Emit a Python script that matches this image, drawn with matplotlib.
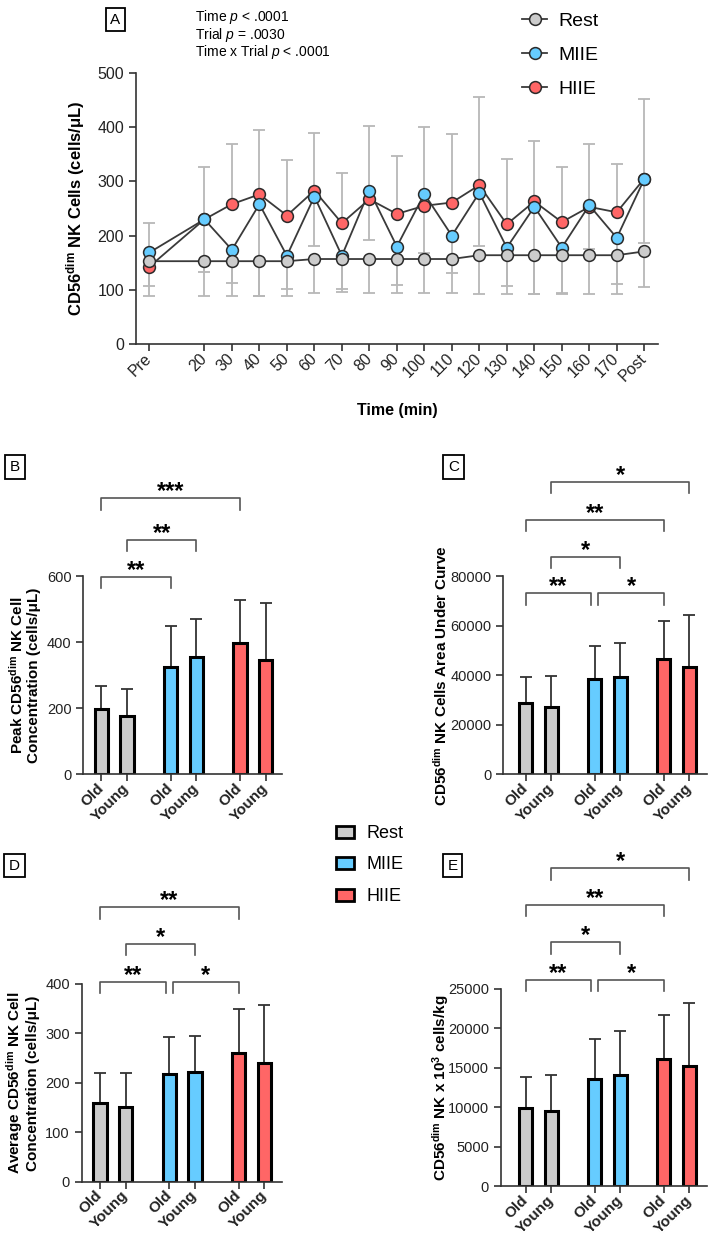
import matplotlib.pyplot as plt
from matplotlib.lines import Line2D
from matplotlib.patches import Patch
import numpy as np

plt.rcParams['font.family'] = ['Liberation Sans', 'DejaVu Sans']
plt.rcParams['mathtext.fontset'] = 'custom'
plt.rcParams['mathtext.rm'] = 'Liberation Sans'
plt.rcParams['mathtext.it'] = 'Liberation Sans:italic'
plt.rcParams['mathtext.bf'] = 'Liberation Sans:bold'

# ---- panel A data (time course) ----
time_pts = [0, 20, 30, 40, 50, 60, 70, 80, 90, 100, 110, 120, 130, 140, 150, 160, 170, 180]
time_labels = ['Pre', '20', '30', '40', '50', '60', '70', '80', '90', '100', '110',
               '120', '130', '140', '150', '160', '170', 'Post']
rest_a = [153, 153, 153, 153, 153, 157, 157, 157, 157, 157, 157, 164, 164, 164, 164, 164, 164, 171]
miie_a = [169, 230, 174, 258, 163, 272, 163, 283, 180, 277, 200, 279, 178, 253, 178, 256, 196, 304]
hiie_a = [143, 230, 258, 276, 237, 283, 223, 267, 240, 255, 261, 293, 221, 263, 225, 253, 243, 305]
# whisker ends
hiie_top = [223, 327, 368, 395, 339, 389, 315, 401, 347, 400, 387, 455, 342, 375, 327, 369, 332, 452]
miie_low = [107, 134, 112, 89, 102, 181, 101, 192, 110, 168, 132, 181, 107, 93, 95, 175, 111, 186]
rest_low = [89, 89, 89, 89, 89, 95, 97, 95, 95, 95, 95, 93, 93, 93, 93, 93, 93, 106]

# ---- bar panels (Old / Young per trial) ----
bar_labels = ['Old', 'Young', 'Old', 'Young', 'Old', 'Young']
peak_mean = [197, 177, 324, 356, 398, 346]
peak_err = [71, 80, 126, 113, 128, 173]
auc_mean = [28900, 27000, 38450, 39400, 46400, 43150]
auc_err = [10500, 12650, 13450, 13450, 15450, 21000]
avg_mean = [159, 151, 218, 221, 261, 241]
avg_err = [60, 68, 75, 74, 88, 116]
kg_mean = [9860, 9520, 13540, 14090, 16080, 15270]
kg_err = [4010, 4570, 5080, 5640, 5620, 7990]

# (from bar, to bar, height, stars)
peak_sig = [(0, 2, 598, '**'), (1, 3, 709, '**'), (0, 4, 835, '***')]
auc_sig = [(0, 2, 73000, '**'), (2, 4, 73000, '*'), (1, 3, 87800, '*'),
           (0, 4, 102600, '**'), (1, 5, 118000, '*')]
avg_sig = [(0, 2, 405, '**'), (2, 4, 405, '*'), (1, 3, 481, '*'), (0, 4, 555, '**')]
kg_sig = [(0, 2, 26140, '**'), (2, 4, 26140, '*'), (1, 3, 30930, '*'),
          (0, 4, 35660, '**'), (1, 5, 40320, '*')]

trials = ['Rest', 'MIIE', 'HIIE']
c_rest, c_miie, c_hiie = '#CCCCCC', '#66CCFF', '#FF6666'
bar_colors = [c_rest, c_rest, c_miie, c_miie, c_hiie, c_hiie]
bar_x = np.array([0, 1, 2.7, 3.7, 5.4, 6.4])

W, H = 709, 1239
fig = plt.figure(figsize=(W / 100, H / 100), dpi=100)


def px_axes(l, t, r, b):
    return fig.add_axes([l / W, 1 - b / H, (r - l) / W, (b - t) / H])


def style(ax, size):
    ax.spines[['top', 'right']].set_visible(False)
    for s in ('left', 'bottom'):
        ax.spines[s].set_linewidth(1.2)
        ax.spines[s].set_color('#333333')
    ax.tick_params(length=5, width=1.2, color='#333333', labelsize=size, labelcolor='#222222')


def tag(x, y, s):
    fig.text(x / W, 1 - y / H, s, ha='center', va='center', fontsize=11,
             bbox=dict(boxstyle='square,pad=0.3', fc='white', ec='black', lw=1.3))


# ================= panel A =================
ax = px_axes(135.7, 72.7, 658, 344.3)
t = np.array(time_pts)
h, m, r = np.array(hiie_a), np.array(miie_a), np.array(rest_a)
z = np.zeros(len(t))
eb = dict(fmt='none', ecolor='#b8b8b8', elinewidth=1.3, capsize=4, capthick=1.3, zorder=1)
ax.errorbar(t, h, yerr=[z, np.array(hiie_top) - h], **eb)
ax.errorbar(t, m, yerr=[m - np.array(miie_low), z], **eb)
ax.errorbar(t, r, yerr=[r - np.array(rest_low), z], **eb)
for y in (h, m, r):
    ax.plot(t, y, color='#3a3a3a', lw=1.3, zorder=2)
for y, c in ((h, c_hiie), (m, c_miie), (r, c_rest)):
    ax.plot(t, y, 'o', ms=8.5, mfc=c, mec='#2a2a2a', mew=1.1, zorder=3)
ax.set_xlim(-5, 185)
ax.set_ylim(0, 500)
ax.set_yticks([0, 100, 200, 300, 400, 500])
ax.set_xticks(time_pts)
ax.set_xticklabels(time_labels, rotation=45, ha='right', va='center', rotation_mode='anchor')
style(ax, 11.5)
ax.set_xlabel('Time (min)', fontsize=11.5, fontweight='bold')
ax.xaxis.set_label_coords(0.5, -0.215)
ax.set_ylabel(r'CD56$^{\mathbf{dim}}$ NK Cells (cells/μL)', fontsize=12, fontweight='bold', va='center')
ax.yaxis.set_label_coords(-0.116, 0.5)

handles = [Line2D([], [], color='#3a3a3a', lw=1.3, marker='o', ms=8.5, mfc=c, mec='#2a2a2a', mew=1.1)
           for c in (c_rest, c_miie, c_hiie)]
fig.legend(handles, trials, loc='upper left', bbox_to_anchor=(522 / W, 1 - 12 / H), frameon=False,
           fontsize=14, handlelength=1.3, handletextpad=0.55, labelspacing=0.86,
           borderpad=0, borderaxespad=0)

stats = ['Time $\\it{p}$ < .0001', 'Trial $\\it{p}$ = .0030', 'Time x Trial $\\it{p}$ < .0001']
for k, s in enumerate(stats):
    fig.text(194.6 / W, 1 - (17 + 17.5 * k) / H, s, ha='left', va='center', fontsize=10)
tag(115.5, 19.5, 'A')


# ================= bar panels =================
def bar_panel(rect, xlim, means, errs, sig, ymax, ystep, ylabel, lab_x):
    ax = px_axes(*rect)
    ax.bar(bar_x, means, width=0.52, color=bar_colors, edgecolor='black', linewidth=2.2, zorder=2)
    ax.errorbar(bar_x, means, yerr=[np.zeros(6), errs], fmt='none', ecolor='#333333',
                elinewidth=1.3, capsize=4, capthick=1.3, zorder=1)
    drop = ymax * 0.058
    for i, j, y, s in sig:
        x0, x1 = bar_x[i], bar_x[j]
        for k, l, yy, _ in sig:
            if yy == y and l == i:
                x0 += 0.14
            if yy == y and k == j:
                x1 -= 0.14
        ax.plot([x0, x0, x1, x1], [y - drop, y, y, y - drop], color='#555555', lw=1.2, clip_on=False)
        ax.annotate(s, xy=((x0 + x1) / 2, y), xytext=(0, 0), textcoords='offset points',
                    ha='center', va='baseline', fontsize=17, fontweight='bold', annotation_clip=False)
    ax.set_xlim(*xlim)
    ax.set_ylim(0, ymax)
    ax.set_yticks(np.arange(0, ymax + 1, ystep))
    ax.set_xticks(bar_x)
    ax.set_xticklabels(bar_labels, rotation=45, ha='right', va='center', rotation_mode='anchor',
                       fontweight='bold')
    style(ax, 10.5)
    ax.tick_params(axis='x', labelsize=11)
    ax.set_ylabel(ylabel, fontsize=11, fontweight='bold', va='center', linespacing=1.15)
    ax.yaxis.set_label_coords(lab_x, 0.5)
    return ax


bar_panel((83.3, 576, 282, 774.3), (-0.70, 7.04), peak_mean, peak_err, peak_sig, 600, 200,
          'Peak CD56$^{\\mathbf{dim}}$ NK Cell\nConcentration (cells/μL)', -0.298)
bar_panel((503.3, 576, 706.7, 774.3), (-0.876, 7.08), auc_mean, auc_err, auc_sig, 80000, 20000,
          'CD56$^{\\mathbf{dim}}$ NK Cells Area Under Curve', -0.306)
bar_panel((81.7, 984, 281.7, 1181.7), (-0.71, 7.07), avg_mean, avg_err, avg_sig, 400, 100,
          'Average CD56$^{\\mathbf{dim}}$ NK Cell\nConcentration (cells/μL)', -0.2985)
bar_panel((500.7, 989, 706.7, 1186), (-0.98, 7.08), kg_mean, kg_err, kg_sig, 25000, 5000,
          'CD56$^{\\mathbf{dim}}$ NK x 10$^{\\mathbf{3}}$ cells/kg', -0.29)

tag(15, 467, 'B')
tag(453.5, 467, 'C')
tag(14.5, 865.5, 'D')
tag(452.5, 865.5, 'E')

patches = [Patch(fc=c, ec='black', lw=2) for c in (c_rest, c_miie, c_hiie)]
fig.legend(patches, trials, loc='upper left', bbox_to_anchor=(336 / W, 1 - 825 / H), frameon=False,
           fontsize=13, handlelength=1.0, handleheight=0.65, handletextpad=0.7, labelspacing=0.8,
           borderpad=0, borderaxespad=0)

fig.savefig('out.png', dpi=100)
